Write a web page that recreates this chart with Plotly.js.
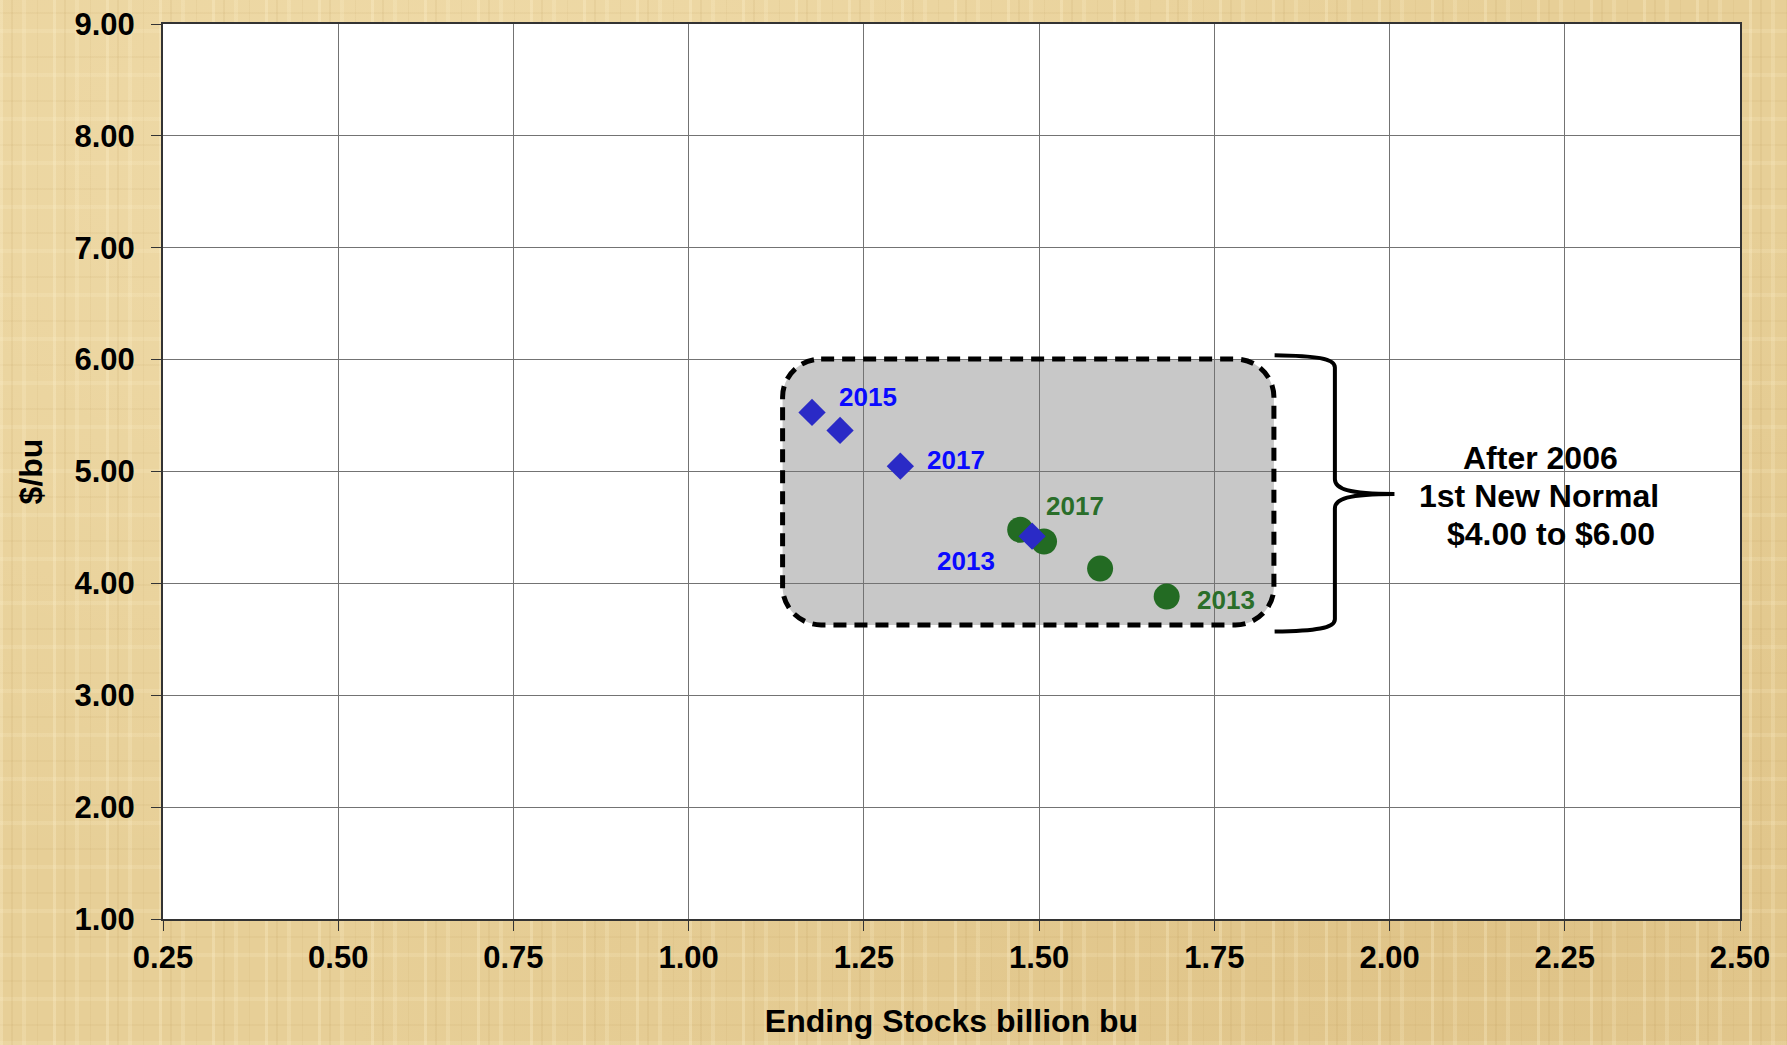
<!DOCTYPE html>
<html>
<head>
<meta charset="utf-8">
<script src="https://cdn.plot.ly/plotly-3.0.1.min.js"></script>
<style>
  html, body { margin: 0; padding: 0; }
  body {
    width: 1787px; height: 1045px; overflow: hidden;
    background-color: #e7cf97;
    background-image:
      repeating-linear-gradient(90deg, rgba(255,244,210,0.28) 0 3px, rgba(0,0,0,0) 3px 11px, rgba(160,120,50,0.08) 11px 13px, rgba(0,0,0,0) 13px 22px, rgba(255,244,210,0.2) 22px 26px, rgba(0,0,0,0) 26px 37px, rgba(160,120,50,0.06) 37px 38px, rgba(0,0,0,0) 38px 53px),
      repeating-linear-gradient(0deg, rgba(255,244,210,0.16) 0 4px, rgba(0,0,0,0) 4px 19px, rgba(160,120,50,0.06) 19px 21px, rgba(0,0,0,0) 21px 44px),
      radial-gradient(ellipse at 25% 15%, rgba(255,240,200,0.35), rgba(0,0,0,0) 60%),
      radial-gradient(ellipse at 85% 90%, rgba(200,160,90,0.25), rgba(0,0,0,0) 55%);
  }
  #chart { width: 1787px; height: 1045px; }
</style>
</head>
<body>
<div id="chart"></div>
<script>
// ---- data ----
var blueX = [1.176, 1.216, 1.302, 1.490];
var blueY = [5.528, 5.367, 5.048, 4.422];
var greenX = [1.473, 1.507, 1.587, 1.682];
var greenY = [4.479, 4.374, 4.132, 3.882];

// year labels: series point index + text
var blueLabelIdx = [0, 2, 3];
var blueLabelText = ['2015', '2017', '2013'];
var greenLabelIdx = [1, 3];
var greenLabelText = ['2017', '2013'];

var xTickVals = [0.25, 0.5, 0.75, 1.0, 1.25, 1.5, 1.75, 2.0, 2.25, 2.5];
var yTickVals = [1, 2, 3, 4, 5, 6, 7, 8, 9];

var noteLines = ['After 2006', '1st New Normal', '$4.00 to $6.00'];

// ---- styling ----
var FONT = 'Liberation Sans, Arial, Helvetica, sans-serif';
var BLUE_MK = '#2a2ac6';
var GREEN_MK = '#236b23';
var BLUE_TXT = '#0a0aff';
var GREEN_TXT = '#2a6e2a';

var traces = [
  {
    x: greenX, y: greenY, type: 'scatter', mode: 'markers',
    marker: { symbol: 'circle', size: 26, color: GREEN_MK, line: { width: 0 } },
    hoverinfo: 'x+y', showlegend: false
  },
  {
    x: blueX, y: blueY, type: 'scatter', mode: 'markers',
    marker: { symbol: 'diamond', size: 21, color: BLUE_MK, line: { width: 0 } },
    hoverinfo: 'x+y', showlegend: false
  }
];

var annotations = [];
var blueShifts = [[56, 15], [56, 6], [-66, -25]];
blueLabelIdx.forEach(function (idx, k) {
  annotations.push({
    x: blueX[idx], y: blueY[idx], xref: 'x', yref: 'y',
    text: blueLabelText[k], showarrow: false,
    xshift: blueShifts[k][0], yshift: blueShifts[k][1],
    font: { family: FONT, size: 26, color: BLUE_TXT, weight: 'bold' }
  });
});
var greenShifts = [[31, 36], [59, -3]];
greenLabelIdx.forEach(function (idx, k) {
  annotations.push({
    x: greenX[idx], y: greenY[idx], xref: 'x', yref: 'y',
    text: greenLabelText[k], showarrow: false,
    xshift: greenShifts[k][0], yshift: greenShifts[k][1],
    font: { family: FONT, size: 26, color: GREEN_TXT, weight: 'bold' }
  });
});
var noteShift = [[-10, 36], [-12, -2], [0, -40]];
noteLines.forEach(function (t, k) {
  annotations.push({
    x: 2.25, y: 4.8, xref: 'x', yref: 'y',
    text: t, showarrow: false, xanchor: 'center',
    xshift: noteShift[k][0] - 14, yshift: noteShift[k][1],
    font: { family: FONT, size: 32, color: '#000', weight: 'bold' }
  });
});

// rounded rectangle (data coords)
function roundRect(x0, x1, y0, y1, rx, ry) {
  var k = 0.5523;
  return 'M ' + (x0 + rx) + ',' + y1 +
    ' L ' + (x1 - rx) + ',' + y1 +
    ' C ' + (x1 - rx + rx * k) + ',' + y1 + ' ' + x1 + ',' + (y1 - ry + ry * k) + ' ' + x1 + ',' + (y1 - ry) +
    ' L ' + x1 + ',' + (y0 + ry) +
    ' C ' + x1 + ',' + (y0 + ry - ry * k) + ' ' + (x1 - rx + rx * k) + ',' + y0 + ' ' + (x1 - rx) + ',' + y0 +
    ' L ' + (x0 + rx) + ',' + y0 +
    ' C ' + (x0 + rx - rx * k) + ',' + y0 + ' ' + x0 + ',' + (y0 + ry - ry * k) + ' ' + x0 + ',' + (y0 + ry) +
    ' L ' + x0 + ',' + (y1 - ry) +
    ' C ' + x0 + ',' + (y1 - ry + ry * k) + ' ' + (x0 + rx - rx * k) + ',' + y1 + ' ' + (x0 + rx) + ',' + y1 + ' Z';
}

var bracePath =
  'M 1.836,6.040 C 1.895,6.035 1.922,6.010 1.922,5.930 ' +
  'L 1.922,4.930 C 1.922,4.845 1.940,4.800 2.007,4.800 ' +
  'C 1.940,4.800 1.922,4.755 1.922,4.670 ' +
  'L 1.922,3.680 C 1.922,3.600 1.895,3.575 1.836,3.569';

var boxPath = roundRect(1.134, 1.835, 3.629, 6.005, 0.055, 0.34);

var shapes = [
  {
    type: 'path', xref: 'x', yref: 'y', layer: 'below',
    path: boxPath, fillcolor: '#c8c8c8', line: { color: 'rgba(0,0,0,0)', width: 0 }
  },
  {
    type: 'path', xref: 'x', yref: 'y', layer: 'above',
    path: boxPath, fillcolor: 'rgba(0,0,0,0)', line: { color: '#000', width: 5, dash: '13px,8px' }
  },
  {
    type: 'path', xref: 'x', yref: 'y', layer: 'above',
    path: bracePath, line: { color: '#000', width: 4 }
  }
];

var axisCommon = {
  showgrid: true, gridcolor: '#737373', gridwidth: 1,
  showline: true, linecolor: '#333', linewidth: 2, mirror: true,
  ticks: 'outside', ticklen: 10, tickwidth: 1, tickcolor: '#333',
  zeroline: false, tickformat: '.2f',
  tickfont: { family: FONT, size: 31, color: '#000', weight: 'bold' }
};

var layout = {
  width: 1787, height: 1045,
  margin: { l: 163, r: 47, t: 24, b: 126, pad: 0 },
  paper_bgcolor: 'rgba(0,0,0,0)',
  plot_bgcolor: '#ffffff',
  showlegend: false,
  xaxis: Object.assign({}, axisCommon, {
    range: [0.25, 2.5], tickmode: 'array', tickvals: xTickVals,
    ticklabelstandoff: 0,
    title: { text: 'Ending Stocks billion bu', standoff: 35,
      font: { family: FONT, size: 32, color: '#000', weight: 'bold' } }
  }),
  yaxis: Object.assign({}, axisCommon, {
    range: [1, 9], tickmode: 'array', tickvals: yTickVals,
    ticklabelstandoff: 10,
    title: { text: '$/bu', standoff: 22,
      font: { family: FONT, size: 32, color: '#000', weight: 'bold' } }
  }),
  annotations: annotations,
  shapes: shapes
};

Plotly.newPlot('chart', traces, layout, { displayModeBar: false, staticPlot: true });
</script>
</body>
</html>
